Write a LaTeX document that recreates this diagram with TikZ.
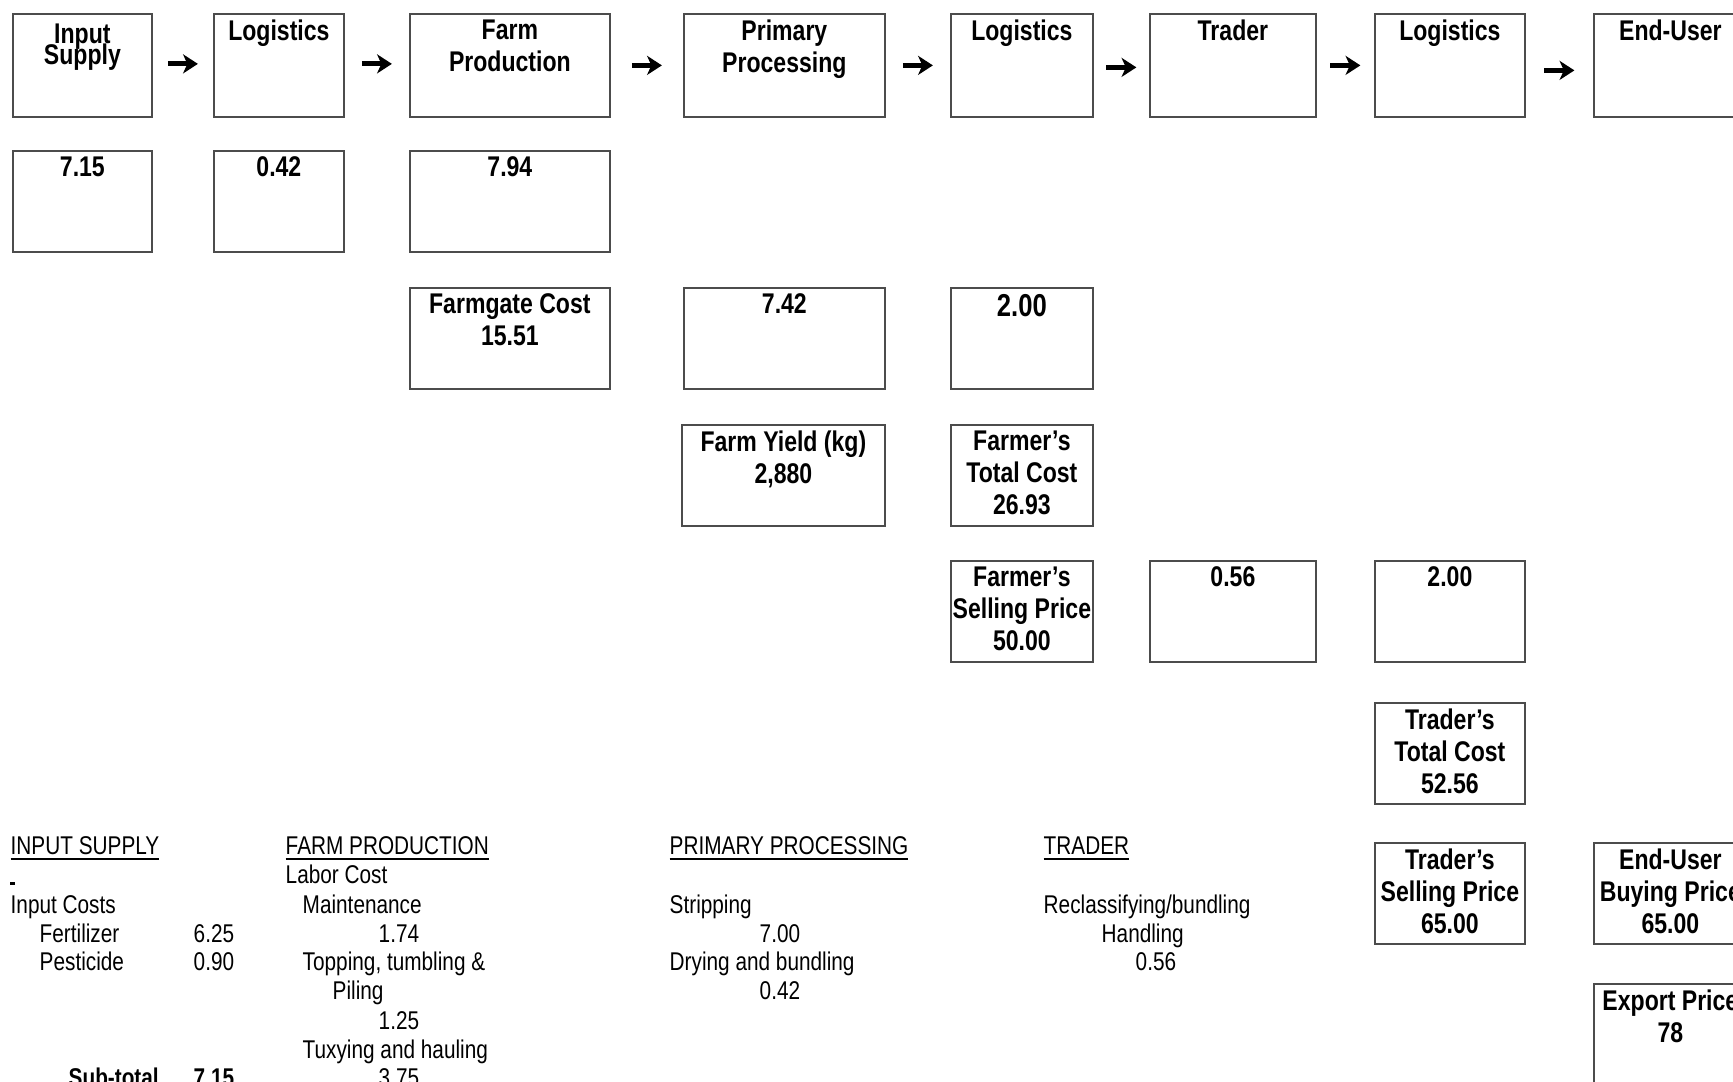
\documentclass[tikz,border=0pt]{standalone}
\usepackage{fontspec}
\setmainfont{Liberation Sans}[FakeStretch=0.81]
\usepackage{tikz}
\usetikzlibrary{arrows.meta,calc}

\newcommand\boxfont{\fontsize{8.1}{9.1}\selectfont\bfseries}
\newcommand\notefont{\fontsize{7.3}{8.2}\selectfont}

\begin{document}
\begin{tikzpicture}[x=0.1mm,y=-0.1mm,
    cell/.style={draw=black!70, line width=0.5pt, anchor=north west, minimum height=10.1mm, inner sep=0pt},
    hd/.style={anchor=north, align=center, inner sep=1.8pt, font=\boxfont},
    flow/.style={line width=1.4pt, -{Stealth[length=4.2pt,width=5.4pt,inset=1.2pt]}},
    note/.style={anchor=base west, inner sep=0pt, font=\notefont}]
    \useasboundingbox (0,0) rectangle (1733,1081);
    \clip (0,0) rectangle (1733,1081);
    % chain
    \node[cell, minimum width=13.9mm, minimum height=10.3mm, label={[hd, yshift=-1pt]north:{Input\\[-3pt]Supply}}] (input) at (12,13) {};
    \node[cell, minimum width=13.0mm, minimum height=10.3mm, label={[hd]north:{Logistics}}] (log1) at (213,13) {};
    \node[cell, minimum width=20.0mm, minimum height=10.3mm, label={[hd]north:{Farm\\Production}}] (farm) at (409,13) {};
    \node[cell, minimum width=20.1mm, minimum height=10.3mm, label={[hd]north:{Primary\\Processing}}] (proc) at (683,13) {};
    \node[cell, minimum width=14.2mm, minimum height=10.3mm, label={[hd]north:{Logistics}}] (log2) at (950,13) {};
    \node[cell, minimum width=16.6mm, minimum height=10.3mm, label={[hd]north:{Trader}}] (trader) at (1149,13) {};
    \node[cell, minimum width=15.0mm, minimum height=10.3mm, label={[hd]north:{Logistics}}] (log3) at (1374,13) {};
    \node[cell, minimum width=15.3mm, minimum height=10.3mm, label={[hd]north:{End-User}}] (user) at (1593,13) {};
    \foreach \a/\b/\d in {input/log1/-1.5, log1/farm/-1.5, farm/proc/0, proc/log2/0,
                          log2/trader/2, trader/log3/0, log3/user/5}
      \draw[flow] ($(\a.east)!0.5!(\b.west)+(-15,\d)$) -- ++(30,0);
    % costs
    \node[cell, minimum width=13.9mm, label={[hd]north:{7.15}}] (inputV) at (12,150) {};
    \node[cell, minimum width=13.0mm, label={[hd]north:{0.42}}] (log1V) at (213,150) {};
    \node[cell, minimum width=20.0mm, label={[hd]north:{7.94}}] (farmV) at (409,150) {};
    \node[cell, minimum width=20.0mm, label={[hd]north:{Farmgate Cost\\15.51}}] (gate) at (409,287) {};
    \node[cell, minimum width=20.1mm, label={[hd]north:{7.42}}] (procV) at (683,287) {};
    \node[cell, minimum width=14.2mm, label={[hd, font=\fontsize{9}{10}\selectfont\bfseries]north:{2.00}}] (log2V) at (950,287) {};
    \node[cell, minimum width=20.3mm, label={[hd]north:{Farm Yield (kg)\\2,880}}] (yield) at (681,424) {};
    \node[cell, minimum width=14.2mm, label={[hd]north:{Farmer’s\\Total Cost\\26.93}}] (fTotal) at (950,424) {};
    \node[cell, minimum width=14.2mm, label={[hd]north:{Farmer’s\\Selling Price\\50.00}}] (fSell) at (950,560) {};
    \node[cell, minimum width=16.6mm, label={[hd]north:{0.56}}] (traderV) at (1149,560) {};
    \node[cell, minimum width=15.0mm, label={[hd]north:{2.00}}] (log3V) at (1374,560) {};
    \node[cell, minimum width=15.0mm, label={[hd]north:{Trader’s\\Total Cost\\52.56}}] (tTotal) at (1374,702) {};
    \node[cell, minimum width=15.0mm, label={[hd]north:{Trader’s\\Selling Price\\65.00}}] (tSell) at (1374,842) {};
    \node[cell, minimum width=15.3mm, label={[hd]north:{End-User\\Buying Price\\65.00}}] (uBuy) at (1593,842) {};
    \node[cell, minimum width=15.3mm, label={[hd]north:{Export Price\\78}}] (export) at (1593,983) {};
    % input supply
    \node[note] (isHead) at (10,854) {\underline{INPUT SUPPLY}};
    \fill (10,882) rectangle (15,885);
    \node[note] (isCosts) at (10,913) {Input Costs};
    \node[note] (isFert) at (39,942) {Fertilizer};
    \node[note] (isFertV) at (193,942) {6.25};
    \node[note] (isPest) at (39,970) {Pesticide};
    \node[note] (isPestV) at (193,970) {0.90};
    \node[note, font=\notefont\bfseries] (isSub) at (68,1086) {Sub-total};
    \node[note, font=\notefont\bfseries] (isSubV) at (193,1086) {7.15};
    % farm production
    \node[note] (fpHead) at (285,854) {\underline{FARM PRODUCTION}};
    \node[note] (fpLabor) at (285,883) {Labor Cost};
    \node[note] (fpMaint) at (302,913) {Maintenance};
    \node[note] (fpMaintV) at (378,942) {1.74};
    \node[note] (fpTop) at (302,970) {Topping, tumbling \&};
    \node[note] (fpPil) at (332,999) {Piling};
    \node[note] (fpTopV) at (378,1029) {1.25};
    \node[note] (fpTux) at (302,1058) {Tuxying and hauling};
    \node[note] (fpTuxV) at (378,1086) {3.75};
    % primary processing
    \node[note] (ppHead) at (669,854) {\underline{PRIMARY PROCESSING}};
    \node[note] (ppStrip) at (669,913) {Stripping};
    \node[note] (ppStripV) at (759,942) {7.00};
    \node[note] (ppDry) at (669,970) {Drying and bundling};
    \node[note] (ppDryV) at (759,999) {0.42};
    % trader
    \node[note] (trHead) at (1043,854) {\underline{TRADER}};
    \node[note] (trRecl) at (1043,913) {Reclassifying/bundling};
    \node[note] (trHand) at (1101,942) {Handling};
    \node[note] (trHandV) at (1135,970) {0.56};
\end{tikzpicture}
\end{document}
